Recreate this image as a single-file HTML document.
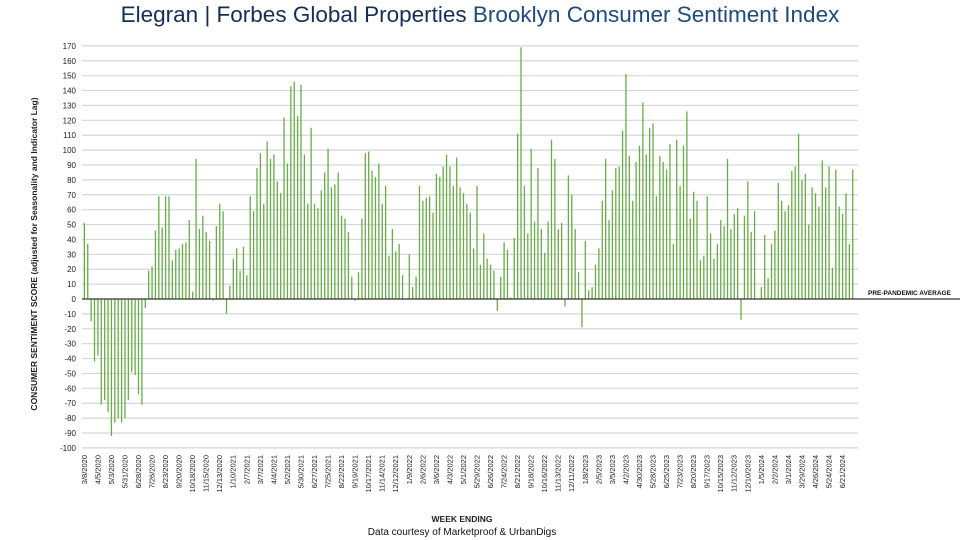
<!DOCTYPE html>
<html><head><meta charset="utf-8"><style>
body{margin:0;background:#fff;}
svg{display:block;font-family:"Liberation Sans",Arial,sans-serif;}
</style></head><body>
<svg id="chart" width="960" height="540">
<text x="480" y="22" text-anchor="middle" font-size="22.5" fill="#1b3a63"><tspan fill="#142f55">Elegran | Forbes Global Properties</tspan><tspan fill="#1f4a7a"> Brooklyn Consumer Sentiment Index</tspan></text>
<g id="grid"></g><g id="bars"></g><g id="xlabels"></g>
<text transform="translate(37,254) rotate(-90)" text-anchor="middle" font-size="8.5" font-weight="bold" fill="#222">CONSUMER SENTIMENT SCORE (adjusted for Seasonality and Indicator Lag)</text>
<text x="462" y="522" text-anchor="middle" font-size="8.5" font-weight="bold" fill="#222">WEEK ENDING</text>
<text x="462" y="535" text-anchor="middle" font-size="10" fill="#111">Data courtesy of Marketproof &amp; UrbanDigs</text>
<text x="868" y="295" font-size="6.5" font-weight="bold" fill="#111">PRE-PANDEMIC AVERAGE</text>
</svg>
<script>
const values = [51,37,-15,-42,-38,-71,-68,-76,-92,-83,-80,-83,-80,-68,-49,-51,-64,-71,-6,19,22,46,69,48,69,69,26,33,34,37,38,53,5,94,47,56,45,39,-1,49,64,59,-10,9,27,34,
19,35,16,69,59,88,98,64,106,94,97,79,71,122,91,143,146,123,144,97,64,115,64,61,73,85,101,75,77,85,56,54,45,15,-1,18,54,98,99,86,82,91,64,76,29,47,
32,37,16,0,30,8,15,76,66,68,69,58,84,82,89,97,89,76,95,75,71,64,58,34,76,23,44,27,23,19,-8,15,38,33,1,41,111,169,76,44,101,52,88,47,31,52,
107,94,47,51,-5,83,70,47,18,-19,39,6,8,23,34,66,94,53,73,88,89,113,151,96,66,92,103,132,97,115,118,69,96,92,87,104,37,107,76,103,126,54,72,66,26,
29,69,44,27,37,53,49,94,47,57,61,-14,56,79,45,59,0,8,43,14,37,46,78,66,59,63,86,89,111,80,84,50,75,71,62,93,75,89,21,87,62,57,71,37,87];
const yTicks = [170,160,150,140,130,120,110,100,90,80,70,60,50,40,30,20,10,0,-10,-20,-30,-40,-50,-60,-70,-80,-90,-100];
const xLabels = ["3/8/2020","4/5/2020","5/3/2020","5/31/2020","6/28/2020","7/26/2020","8/23/2020","9/20/2020","10/18/2020","11/15/2020","12/13/2020","1/10/2021","2/7/2021","3/7/2021","4/4/2021","5/2/2021","5/30/2021","6/27/2021","7/25/2021","8/22/2021","9/19/2021","10/17/2021","11/14/2021","12/12/2021","1/9/2022","2/6/2022","3/6/2022","4/3/2022","5/1/2022","5/29/2022","6/26/2022","7/24/2022","8/21/2022","9/18/2022","10/16/2022","11/13/2022","12/11/2022","1/8/2023","2/5/2023","3/5/2023","4/2/2023","4/30/2023","5/28/2023","6/25/2023","7/23/2023","8/20/2023","9/17/2023","10/15/2023","11/12/2023","12/10/2023","1/5/2024","2/2/2024","3/1/2024","3/29/2024","4/26/2024","5/24/2024","6/21/2024"];
const NS="http://www.w3.org/2000/svg";
const y0=299, pxPerUnit=402/270;
function yScale(v){return y0 - v*pxPerUnit;}
const x0=84.3, step=3.385;
function xScale(i){return x0 + i*step;}
function mk(tag,attrs,parent){const e=document.createElementNS(NS,tag);for(const k in attrs)e.setAttribute(k,attrs[k]);parent.appendChild(e);return e;}
const grid=document.getElementById('grid'), bars=document.getElementById('bars'), xl=document.getElementById('xlabels');
yTicks.forEach(t=>{
  const y=yScale(t);
  if(t!==0){const l=mk('line',{x1:82,x2:858,y1:y,y2:y,stroke:'#d6d6d6','stroke-width':1.2},grid);
  
  }
  const tx=mk('text',{x:76,y:y+3,'text-anchor':'end','font-size':8,fill:'#222'},grid);
  tx.textContent=t;
  
  
});
values.forEach((v,i)=>{
  const x=xScale(i), y=yScale(v);
  const r=mk('rect',{x:x-0.6,y:Math.min(y,y0),width:1.3,height:Math.max(Math.abs(y-y0),0.5),fill:'#6aab4a'},bars);
  
  
});
const base=mk('line',{x1:82,x2:960,y1:y0,y2:y0,stroke:'#333','stroke-width':1.3},bars);


xLabels.forEach((s,j)=>{
  const x=xScale(j*4);
  const t=mk('text',{transform:`translate(${x+2.5},455) rotate(-90)`,'text-anchor':'end','font-size':7.5,fill:'#222'},xl);
  t.textContent=s;
  
  
});
</script>
</body></html>
